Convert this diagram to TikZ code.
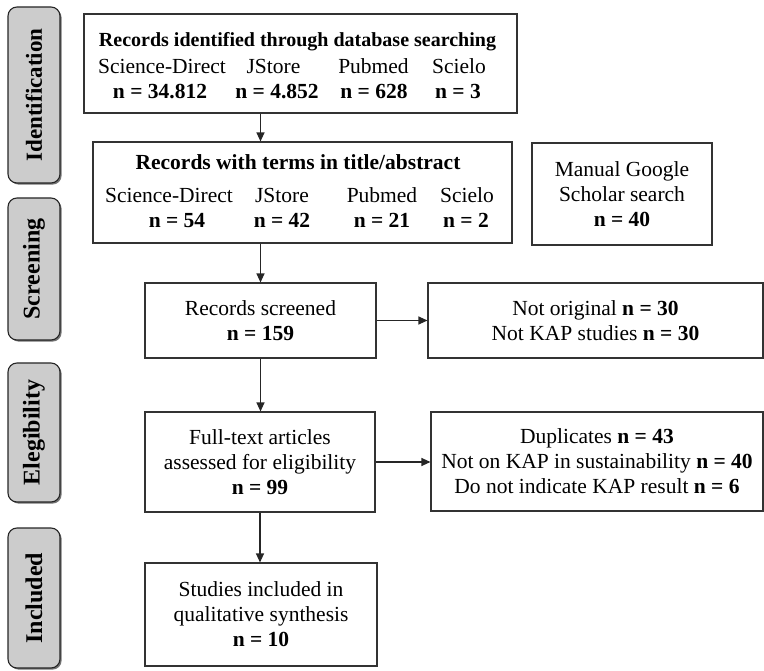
\documentclass[tikz,border=0pt]{standalone}
\usepackage{fontspec}
\setmainfont{Liberation Serif}
\usetikzlibrary{arrows.meta,shadows}
\begin{document}
\begin{tikzpicture}[x=1pt,y=-1pt,
  box/.style={draw=black!80,line width=1.1pt,rectangle,inner sep=0pt,align=center,font=\fontsize{21.5}{25}\selectfont},
  side/.style={draw=black!85,line width=1.1pt,rounded corners=9pt,fill=black!20,inner sep=0pt,
     drop shadow={shadow xshift=1.6pt,shadow yshift=-1.6pt,fill=black!55,opacity=1}},
  arr/.style={-{Triangle[length=9pt,width=8pt]},line width=1.2pt,draw=black!85},
  lbl/.style={font=\fontsize{24}{25}\selectfont\bfseries,rotate=90,inner sep=0pt},
  txt/.style={inner sep=0pt,anchor=base,font=\fontsize{21.5}{25}\selectfont}
]
\useasboundingbox (0,0) rectangle (764,671);

% side labels
\node[side,minimum width=52pt,minimum height=176pt] (sid) at (34,95) {};
\node[lbl,font=\fontsize{23}{25}\selectfont\bfseries] (sidt) at (sid) {Identification};
\node[side,minimum width=52pt,minimum height=142pt] (ssc) at (34,269) {};
\node[lbl] (ssct) at (ssc) {Screening};
\node[side,minimum width=52pt,minimum height=139pt] (sel) at (34,432.5) {};
\node[lbl] (selt) at (sel) {Elegibility};
\node[side,minimum width=52pt,minimum height=140pt] (sin) at (34,598) {};
\node[lbl] (sint) at (sin) {Included};

% box 1
\node[box,minimum width=433pt,minimum height=99pt] (b1) at (300.5,63.5) {};
\node[txt,font=\fontsize{20}{25}\selectfont\bfseries] (b1t) at (297.5,47) {Records identified through database searching};
\node[txt] (b1a) at (162,74) {Science-Direct};
\node[txt] (b1b) at (273.5,74) {JStore};
\node[txt] (b1c) at (373.5,74) {Pubmed};
\node[txt] (b1d) at (459,74) {Scielo};
\node[txt,font=\fontsize{21.5}{25}\selectfont\bfseries] (b1e) at (160,99) {n = 34.812};
\node[txt,font=\fontsize{21.5}{25}\selectfont\bfseries] (b1f) at (277,99) {n = 4.852};
\node[txt,font=\fontsize{21.5}{25}\selectfont\bfseries] (b1g) at (374,99) {n = 628};
\node[txt,font=\fontsize{21.5}{25}\selectfont\bfseries] (b1h) at (458,99) {n = 3};

% box 2
\node[box,minimum width=419pt,minimum height=101pt] (b2) at (302.5,192.5) {};
\node[txt,font=\fontsize{21.5}{25}\selectfont\bfseries] (b2t) at (298,170) {Records with terms in title/abstract};
\node[txt] (b2a) at (169,203) {Science-Direct};
\node[txt] (b2b) at (282,203) {JStore};
\node[txt] (b2c) at (382,203) {Pubmed};
\node[txt] (b2d) at (467,203) {Scielo};
\node[txt,font=\fontsize{21.5}{25}\selectfont\bfseries] (b2e) at (177,228) {n = 54};
\node[txt,font=\fontsize{21.5}{25}\selectfont\bfseries] (b2f) at (282,228) {n = 42};
\node[txt,font=\fontsize{21.5}{25}\selectfont\bfseries] (b2g) at (382,228) {n = 21};
\node[txt,font=\fontsize{21.5}{25}\selectfont\bfseries] (b2h) at (466,228) {n = 2};

% other boxes
\node[box,minimum width=180pt,minimum height=102pt] (man) at (622,194) {Manual Google\\Scholar search\\\textbf{n = 40}};
\node[box,minimum width=231pt,minimum height=75pt] (scr) at (260.5,320.5) {Records screened\\\textbf{n = 159}};
\node[box,minimum width=335pt,minimum height=75pt] (nor) at (595.5,320.5) {Not original \textbf{n = 30}\\Not KAP studies \textbf{n = 30}};
\node[box,minimum width=230pt,minimum height=100pt] (ful) at (260,462) {Full-text articles\\assessed for eligibility\\\textbf{n = 99}};
\node[box,minimum width=332pt,minimum height=99pt] (dup) at (597,461.5) {Duplicates \textbf{n = 43}\\Not on KAP in sustainability \textbf{n = 40}\\Do not indicate KAP result \textbf{n = 6}};
\node[box,minimum width=232pt,minimum height=103pt] (inc) at (261,614.5) {Studies included in\\qualitative synthesis\\\textbf{n = 10}};

% arrows
\draw[arr] (b1.south -| scr.north) -- (b2.north -| scr.north);
\draw[arr] (b2.south -| scr.north) -- (scr.north);
\draw[arr] (scr.south) -- (scr.south |- ful.north);
\draw[arr] (ful.south) -- (ful.south |- inc.north);
\draw[arr] (scr.east) -- (scr.east -| nor.west);
\draw[arr] (ful.east) -- (ful.east -| dup.west);
\end{tikzpicture}
\end{document}
